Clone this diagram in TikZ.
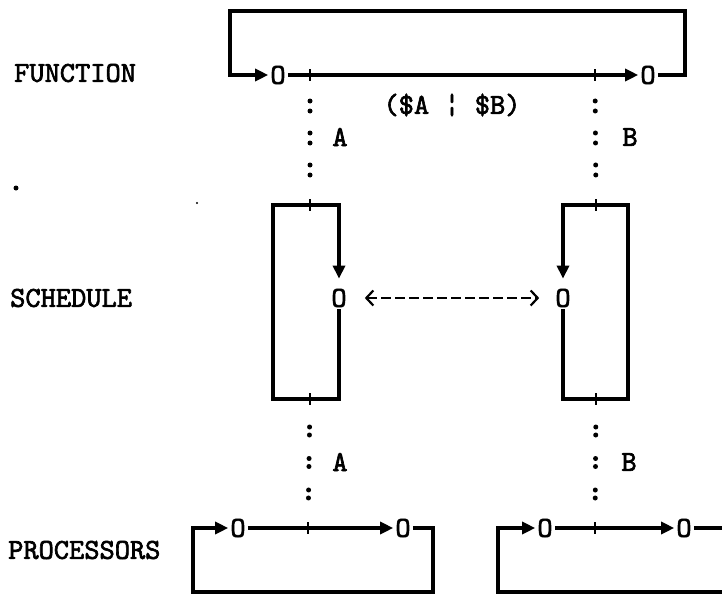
\documentclass[tikz,border=0pt]{standalone}
\usepackage{fontspec}
\newfontfamily\twfont{lmmono10-regular}[Extension=.otf, FakeBold=2.2]
\usetikzlibrary{arrows.meta}
\tikzset{
  tw/.style={font=\fontsize{29}{30}\selectfont\twfont, inner sep=0pt},
  lab/.style={tw, anchor=west},
  oh/.style={tw, inner sep=2pt},
  wire/.style={line width=3.2pt, line join=miter},
  arr/.style={-{Triangle[length=13pt,width=12pt]}},
  tick/.style={fill=black, inner sep=0pt, minimum width=2.6pt, minimum height=12pt},
  dots/.style={line width=5pt, line cap=round},
  link/.style={dashed, line width=2.2pt, dash pattern=on 10pt off 4pt,
    {Straight Barb[length=7pt,width=15pt]}-{Straight Barb[length=7pt,width=15pt]}},
}
\begin{document}
\begin{tikzpicture}[x=1pt,y=-1pt]
\clip (0,0) rectangle (722,594);
\fill[white] (0,0) rectangle (722,594);

% row labels
\node[lab] (lf) at (14,73) {FUNCTION};
\node[lab] (ls) at (10,298) {SCHEDULE};
\node[lab] (lp) at (8,550) {PROCESSORS};

% stray marks
\fill (16,188) circle (2.5);
\fill (197,203) circle (1.2);

% ---------------- FUNCTION ----------------
\coordinate (fTL) at (230,11);
\coordinate (fTR) at (685,11);
\node[oh] (fO1) at (278,75) {O};
\node[tick] (fp1) at (310,75) {};
\node[tick] (fp2) at (595,75) {};
\node[oh] (fO2) at (648,75) {O};
\draw[wire,arr] (fO2.east) -| (fTR) -- (fTL) |- (fO1.west);
\draw[wire] (fO1.east) -- (fp1.center) -- (fp2.center);
\draw[wire,arr] (fp2.center) -- (fO2.west);
\node[tw] (sel) at (452,105) {(\$A ¦ \$B)};

% ---------------- SCHEDULE ----------------
\coordinate (sTL) at (273,205);
\node[tick] (sp1) at (310,205) {};
\node[tick] (sp2) at (310,399) {};
\node[oh] (sO1) at (339,298) {O};
\draw[wire] (sO1.south) |- (sp2.center) -| (sTL) -- (sp1.center);
\draw[wire,arr,shorten >=8pt] (sp1.center) -| (sO1.north);

\coordinate (sTR) at (628,205);
\node[tick] (sp3) at (596,205) {};
\node[tick] (sp4) at (596,399) {};
\node[oh] (sO2) at (563,298) {O};
\draw[wire] (sO2.south) |- (sp4.center) -| (sTR) -- (sp3.center);
\draw[wire,arr,shorten >=8pt] (sp3.center) -| (sO2.north);

\draw[link, shorten <=16pt, shorten >=14pt] (sO1.east) -- (sO2.west);

% ---------------- PROCESSORS ----------------
\coordinate (pBL) at (193,592);
\coordinate (pBR) at (433,592);
\node[oh] (pO1) at (238,528) {O};
\node[tick] (pp1) at (308,528) {};
\node[oh] (pO2) at (403,528) {O};
\draw[wire,arr] (pO2.east) -| (pBR) -- (pBL) |- (pO1.west);
\draw[wire] (pO1.east) -- (pp1.center);
\draw[wire,arr] (pp1.center) -- (pO2.west);

\coordinate (qBL) at (498,592);
\coordinate (qBE) at (730,592);
\coordinate (qTE) at (730,528);
\node[oh] (pO3) at (545,528) {O};
\node[tick] (pp2) at (595,528) {};
\node[oh] (pO4) at (684,528) {O};
\draw[wire,arr] (qBE) -- (qBL) |- (pO3.west);
\draw[wire] (pO3.east) -- (pp2.center);
\draw[wire,arr] (pp2.center) -- (pO4.west);
\draw[wire] (pO4.east) -- (qTE);

% ---------------- dotted links (typed colons) ----------------
\draw[dots, dash pattern=on 0pt off 10pt on 0pt off 22pt, shorten <=26pt, shorten >=29pt]
  (fp1.center) -- (sp1.center);
\draw[dots, dash pattern=on 0pt off 10pt on 0pt off 22pt, shorten <=26pt, shorten >=29pt]
  (fp2.center) -- (sp3.center);
\draw[dots, dash pattern=on 0pt off 8pt on 0pt off 23.5pt, shorten <=28pt, shorten >=28pt]
  (sp2.center) -- (pp1.center);
\draw[dots, dash pattern=on 0pt off 8pt on 0pt off 23.5pt, shorten <=28pt, shorten >=28pt]
  (sp4.center) -- (pp2.center);

\node[tw] (a1) at (340,137) {A};
\node[tw] (b1) at (630,137) {B};
\node[tw] (a2) at (340,462) {A};
\node[tw] (b2) at (629,462) {B};
\end{tikzpicture}
\end{document}
